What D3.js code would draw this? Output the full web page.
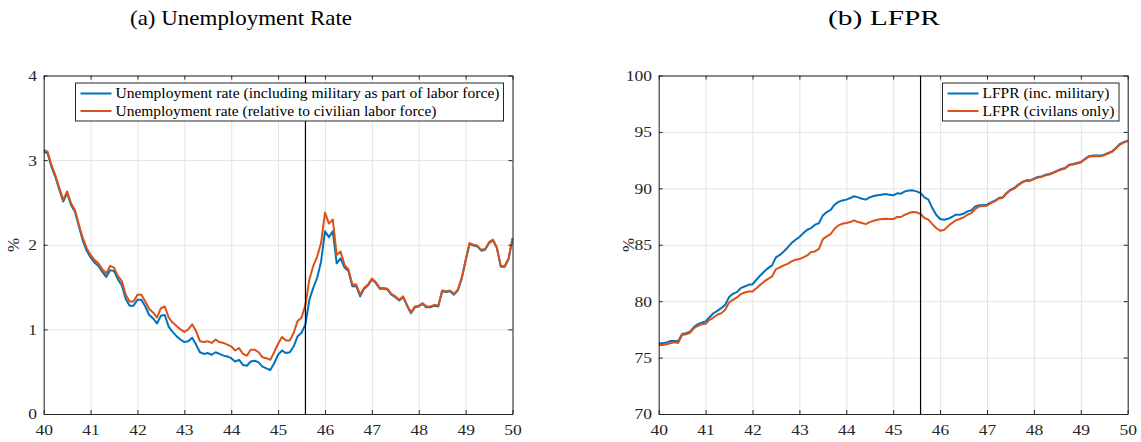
<!DOCTYPE html>
<html lang="en">
<head>
<meta charset="UTF-8">
<title>Unemployment Rate and LFPR, 1940-1950</title>
<script src="https://d3js.org/d3.v7.min.js"></script>
<style>
    body { margin: 0; background: #fff; }
    svg { display: block; font-family: "Liberation Serif", "Times New Roman", serif; }
    .grid line { stroke: #e4e4e4; stroke-width: 1; }
    .grid path { display: none; }
    .axis path, .axis line { stroke: #262626; stroke-width: 1; }
    .axis text { fill: #262626; font-size: 15.5px; font-family: "Liberation Serif", serif; }
    .legend text { font-size: 14px; fill: #000; }
    .title { font-size: 22px; fill: #000; }
</style>
</head>
<body>
<svg id="chart" width="1141" height="442"></svg>
<script>
// monthly observations, Jan 1940 (40) to Jan 1950 (50)
var startYear = 40;
var warEnd = 45 + 7 / 12;
var xTicks = [40, 41, 42, 43, 44, 45, 46, 47, 48, 49, 50];
var urTicks = [0, 1, 2, 3, 4];
var lfprTicks = [70, 75, 80, 85, 90, 95, 100];

var urMilitary = [
    3.10, 3.08, 2.92, 2.80, 2.65, 2.51, 2.61, 2.47, 2.39, 2.22, 2.05, 1.93,
    1.85, 1.79, 1.75, 1.68, 1.62, 1.70, 1.69, 1.59, 1.52, 1.36, 1.28, 1.28,
    1.35, 1.35, 1.27, 1.17, 1.13, 1.07, 1.16, 1.17, 1.03, 0.97, 0.92, 0.88,
    0.85, 0.86, 0.90, 0.82, 0.73, 0.71, 0.72, 0.70, 0.73, 0.71, 0.69, 0.68,
    0.66, 0.62, 0.64, 0.58, 0.57, 0.62, 0.63, 0.61, 0.56, 0.54, 0.52, 0.60,
    0.70, 0.75, 0.72, 0.73, 0.80, 0.92, 0.96, 1.06, 1.35, 1.49, 1.61, 1.80,
    2.16, 2.09, 2.16, 1.78, 1.84, 1.73, 1.69, 1.51, 1.51, 1.39, 1.48, 1.52,
    1.59, 1.55, 1.48, 1.48, 1.47, 1.41, 1.38, 1.34, 1.38, 1.28, 1.19, 1.26,
    1.27, 1.30, 1.26, 1.26, 1.28, 1.27, 1.45, 1.44, 1.45, 1.41, 1.46, 1.60,
    1.81, 2.01, 1.99, 1.98, 1.93, 1.94, 2.02, 2.05, 1.96, 1.74, 1.74, 1.83, 2.07
];
var urCivilian = [
    3.12, 3.10, 2.94, 2.82, 2.67, 2.53, 2.63, 2.49, 2.41, 2.24, 2.08, 1.96,
    1.88, 1.82, 1.78, 1.71, 1.66, 1.75, 1.73, 1.63, 1.57, 1.41, 1.33, 1.33,
    1.41, 1.41, 1.33, 1.24, 1.20, 1.14, 1.25, 1.27, 1.14, 1.08, 1.04, 1.00,
    0.97, 1.00, 1.06, 0.98, 0.86, 0.85, 0.86, 0.84, 0.88, 0.85, 0.84, 0.82,
    0.80, 0.75, 0.78, 0.71, 0.69, 0.76, 0.76, 0.73, 0.67, 0.66, 0.64, 0.73,
    0.83, 0.91, 0.87, 0.87, 0.96, 1.10, 1.14, 1.29, 1.59, 1.75, 1.86, 2.02,
    2.38, 2.25, 2.30, 1.88, 1.92, 1.76, 1.71, 1.53, 1.53, 1.41, 1.49, 1.53,
    1.60, 1.56, 1.49, 1.49, 1.48, 1.42, 1.39, 1.35, 1.39, 1.29, 1.20, 1.27,
    1.28, 1.31, 1.27, 1.27, 1.29, 1.28, 1.46, 1.45, 1.46, 1.42, 1.47, 1.61,
    1.82, 2.02, 2.00, 1.99, 1.94, 1.95, 2.03, 2.06, 1.97, 1.75, 1.75, 1.84, 2.08
];
var lfprMilitary = [
    76.27, 76.27, 76.33, 76.48, 76.48, 76.48, 77.10, 77.16, 77.30, 77.70, 77.96, 78.10,
    78.20, 78.58, 78.93, 79.14, 79.38, 79.67, 80.36, 80.65, 80.80, 81.15, 81.30, 81.45,
    81.50, 81.90, 82.28, 82.63, 82.93, 83.17, 83.88, 84.10, 84.40, 84.76, 85.15, 85.44,
    85.68, 86.03, 86.33, 86.48, 86.78, 86.90, 87.60, 87.90, 88.10, 88.55, 88.80, 88.93,
    89.00, 89.14, 89.30, 89.20, 89.08, 89.00, 89.20, 89.32, 89.38, 89.44, 89.50, 89.44,
    89.38, 89.56, 89.53, 89.73, 89.80, 89.82, 89.73, 89.58, 89.20, 89.00, 88.25, 87.66,
    87.28, 87.22, 87.30, 87.46, 87.66, 87.66, 87.75, 87.96, 88.05, 88.40, 88.50, 88.50,
    88.55, 88.76, 88.90, 89.14, 89.20, 89.59, 89.88, 90.03, 90.33, 90.56, 90.71, 90.71,
    90.86, 91.00, 91.06, 91.20, 91.27, 91.42, 91.57, 91.72, 91.80, 92.10, 92.16, 92.25,
    92.34, 92.60, 92.84, 92.90, 92.90, 92.90, 92.99, 93.14, 93.28, 93.58, 93.93, 94.10, 94.23
];
var lfprCivilian = [
    76.12, 76.12, 76.18, 76.27, 76.36, 76.30, 77.00, 77.07, 77.20, 77.60, 77.80, 77.96,
    78.00, 78.34, 78.55, 78.80, 78.93, 79.23, 79.88, 80.12, 80.33, 80.62, 80.77, 80.86,
    80.86, 81.15, 81.45, 81.75, 81.98, 82.19, 82.84, 82.99, 83.17, 83.31, 83.52, 83.67,
    83.73, 83.88, 84.05, 84.35, 84.41, 84.64, 85.50, 85.74, 85.95, 86.42, 86.72, 86.86,
    86.92, 87.01, 87.16, 87.01, 86.92, 86.83, 87.01, 87.13, 87.22, 87.28, 87.31, 87.28,
    87.28, 87.46, 87.46, 87.66, 87.81, 87.90, 87.87, 87.72, 87.37, 87.22, 86.83, 86.48,
    86.24, 86.30, 86.63, 86.92, 87.16, 87.28, 87.43, 87.66, 87.81, 88.17, 88.40, 88.43,
    88.46, 88.70, 88.85, 89.09, 89.15, 89.54, 89.83, 89.98, 90.28, 90.51, 90.66, 90.66,
    90.81, 90.95, 91.01, 91.15, 91.22, 91.37, 91.52, 91.67, 91.75, 92.05, 92.11, 92.20,
    92.29, 92.55, 92.79, 92.85, 92.85, 92.85, 92.94, 93.09, 93.23, 93.53, 93.88, 94.05, 94.18
];

var blue = "#0072BD", orange = "#D95319";
var svg = d3.select("#chart");

function drawPanel(p) {
    var x = d3.scaleLinear().domain([40, 50]).range([p.left, p.right]);
    var y = d3.scaleLinear().domain(p.yDomain).range([414, 75.5]);
    var h = 414 - 75.5, w = p.right - p.left;
    var g = svg.append("g");

    // grid
    g.append("g").attr("class", "grid").attr("transform", "translate(0,414)")
        .call(d3.axisBottom(x).tickValues(xTicks).tickSize(-h).tickFormat(""));
    g.append("g").attr("class", "grid").attr("transform", "translate(" + p.left + ",0)")
        .call(d3.axisLeft(y).tickValues(p.yTicks).tickSize(-w).tickFormat(""));

    // lines
    var line = d3.line()
        .x(function(d, i) { return x(startYear + i / 12); })
        .y(function(d) { return y(d); });
    g.append("path").datum(p.s1).attr("d", line)
        .attr("fill", "none").attr("stroke", blue).attr("stroke-width", 2).attr("stroke-linejoin", "round");
    g.append("path").datum(p.s2).attr("d", line)
        .attr("fill", "none").attr("stroke", orange).attr("stroke-width", 2).attr("stroke-linejoin", "round");

    // end of war marker
    g.append("line")
        .attr("x1", x(warEnd)).attr("x2", x(warEnd))
        .attr("y1", y(p.yDomain[0])).attr("y2", y(p.yDomain[1]))
        .attr("stroke", "#000").attr("stroke-width", 1.2);

    // axes, MATLAB style box with inward ticks
    var stretch = function(sel) {
        sel.selectAll("text").attr("transform", "scale(1.13,1)");
    };
    g.append("g").attr("class", "axis").attr("transform", "translate(0,414)")
        .call(d3.axisBottom(x).tickValues(xTicks).tickSizeInner(-4).tickSizeOuter(0).tickPadding(10)
            .tickFormat(d3.format("d")))
        .call(stretch);
    g.append("g").attr("class", "axis").attr("transform", "translate(0,75.5)")
        .call(d3.axisTop(x).tickValues(xTicks).tickSizeInner(-4).tickSizeOuter(0).tickFormat(""));
    g.append("g").attr("class", "axis").attr("transform", "translate(" + p.left + ",0)")
        .call(d3.axisLeft(y).tickValues(p.yTicks).tickSizeInner(-4).tickSizeOuter(0).tickPadding(6)
            .tickFormat(d3.format("d")))
        .call(stretch);
    g.append("g").attr("class", "axis").attr("transform", "translate(" + p.right + ",0)")
        .call(d3.axisRight(y).tickValues(p.yTicks).tickSizeInner(-4).tickSizeOuter(0).tickFormat(""));

    // y label
    g.append("text")
        .attr("transform", "translate(" + (p.left - 25) + ",245) rotate(-90)")
        .attr("text-anchor", "middle")
        .attr("font-size", 17).attr("fill", "#262626")
        .text("%");

    // legend
    var lg = g.append("g").attr("class", "legend");
    lg.append("rect")
        .attr("x", p.legend.x).attr("y", 83)
        .attr("width", p.legend.w).attr("height", 38)
        .attr("fill", "#fff").attr("stroke", "#262626").attr("stroke-width", 1);
    [[blue, p.labels[0], p.legend.len[0]], [orange, p.labels[1], p.legend.len[1]]].forEach(function(item, i) {
        var ly = 93.5 + i * 17.5;
        lg.append("line")
            .attr("x1", p.legend.x + 5).attr("x2", p.legend.x + 36)
            .attr("y1", ly).attr("y2", ly)
            .attr("stroke", item[0]).attr("stroke-width", 2);
        lg.append("text")
            .attr("x", p.legend.x + 40).attr("y", ly + 4.5)
            .attr("textLength", item[2]).attr("lengthAdjust", "spacingAndGlyphs")
            .text(item[1]);
    });

    // title
    svg.append("text").attr("class", "title")
        .attr("x", p.titleX).attr("y", 25)
        .attr("text-anchor", "middle")
        .attr("textLength", p.titleLen).attr("lengthAdjust", "spacingAndGlyphs")
        .text(p.title);
}

drawPanel({
    left: 43.7, right: 512.5,
    yDomain: [0, 4], yTicks: urTicks,
    s1: urMilitary, s2: urCivilian,
    labels: ["Unemployment rate (including military as part of labor force)",
             "Unemployment rate (relative to civilian labor force)"],
    legend: { x: 75.5, w: 428, len: [384, 321] },
    title: "(a) Unemployment Rate", titleX: 241, titleLen: 222
});

drawPanel({
    left: 658.7, right: 1127.7,
    yDomain: [70, 100], yTicks: lfprTicks,
    s1: lfprMilitary, s2: lfprCivilian,
    labels: ["LFPR (inc. military)", "LFPR (civilans only)"],
    legend: { x: 942.5, w: 176.5, len: [127, 132] },
    title: "(b) LFPR", titleX: 884, titleLen: 112
});
</script>
</body>
</html>
